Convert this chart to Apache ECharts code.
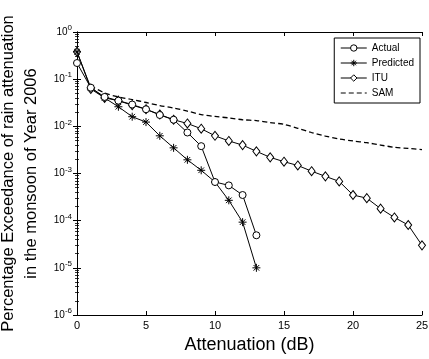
<!DOCTYPE html>
<html>
<head>
<meta charset="utf-8">
<script src="https://cdn.jsdelivr.net/npm/echarts@6/dist/echarts.min.js"></script>
<style>
  html, body { margin: 0; padding: 0; background: #fff; }
  #chart { width: 429px; height: 359px; }
</style>
</head>
<body>
<div id="chart"></div>
<script>
// attenuation (dB) steps
const attenActual = [0, 1, 2, 3, 4, 5, 6, 7, 8, 9, 10, 11, 12, 13];
const attenItu = [0, 1, 2, 3, 4, 5, 6, 7, 8, 9, 10, 11, 12, 13, 14, 15, 16, 17, 18, 19, 20, 21, 22, 23, 24, 25];
const attenSam = [1, 2, 3, 4, 5, 6, 7, 8, 9, 10, 11, 12, 13, 14, 15, 16, 17, 18, 19, 20, 21, 22, 23, 24, 25];

// percentage exceedance
const actual = [0.22, 0.066, 0.042, 0.035, 0.029, 0.023, 0.0174, 0.0138, 0.0074, 0.0038, 0.00066, 0.00056, 0.00035, 0.000049];
const predicted = [0.38, 0.066, 0.04, 0.026, 0.016, 0.0123, 0.0063, 0.0035, 0.00195, 0.00117, 0.00066, 0.00027, 0.000093, 0.00001];
const itu = [0.38, 0.062, 0.04, 0.035, 0.028, 0.023, 0.0178, 0.0138, 0.0115, 0.0089, 0.0063, 0.0049, 0.004, 0.00295,
  0.0022, 0.00178, 0.00148, 0.00112, 0.00087, 0.00068, 0.00035, 0.0003, 0.00018, 0.000117, 0.000081, 0.00003];
const sam = [0.072, 0.051, 0.042, 0.037, 0.032, 0.0275, 0.0245, 0.021, 0.0178, 0.0162, 0.0151, 0.0138, 0.0132,
  0.012, 0.011, 0.0091, 0.0074, 0.0062, 0.0054, 0.0049, 0.0045, 0.004, 0.0036, 0.0034, 0.0032];

const xTicks = [0, 5, 10, 15, 20, 25];

const FONT = '"Liberation Sans", Arial, Helvetica, sans-serif';
const star = 'path://M0,-10 L0,10 M-10,0 L10,0 M-7,-7 L7,7 M-7,7 L7,-7';

const pairs = (xs, ys) => xs.map((x, i) => [x, ys[i]]);

const chart = echarts.init(document.getElementById('chart'), null, { renderer: 'canvas' });

const tickStyle = { show: true, inside: true, length: 4, lineStyle: { color: '#000', width: 1 } };
const minorStyle = { show: true, splitNumber: 9, length: 2, lineStyle: { color: '#000', width: 0.8 } };

const option = {
  animation: false,
  backgroundColor: '#fff',
  textStyle: { fontFamily: FONT },
  grid: { left: 77, right: 7, top: 32, bottom: 44, containLabel: false, outerBoundsMode: 'none' },
  legend: {
    right: 9, top: 38,
    orient: 'vertical',
    backgroundColor: '#fff',
    borderColor: '#000', borderWidth: 1,
    padding: [5, 6, 5, 6],
    itemGap: 5,
    itemWidth: 26, itemHeight: 8,
    lineStyle: { width: 1 },
    itemStyle: { borderWidth: 1 },
    textStyle: { fontFamily: FONT, fontSize: 10, color: '#000' },
    data: [
      'Actual', 'Predicted', 'ITU',
      { name: 'SAM', itemStyle: { color: 'rgba(0,0,0,0)', borderColor: 'rgba(0,0,0,0)', borderWidth: 0 } }
    ]
  },
  xAxis: [
    {
      type: 'value', min: 0, max: 25, interval: 5,
      name: 'Attenuation (dB)', nameLocation: 'middle', nameGap: 21,
      nameTextStyle: { fontFamily: FONT, fontSize: 18, color: '#000' },
      axisLine: { show: true, lineStyle: { color: '#000', width: 1 } },
      axisTick: tickStyle,
      axisLabel: { fontFamily: FONT, fontSize: 11, color: '#000', margin: 5,
        formatter: v => xTicks.includes(v) ? String(v) : '' },
      splitLine: { show: false }
    },
    {
      type: 'value', min: 0, max: 25, interval: 5, position: 'top',
      axisLine: { show: true, lineStyle: { color: '#000', width: 1 } },
      axisTick: tickStyle, axisLabel: { show: false }, splitLine: { show: false }
    }
  ],
  yAxis: [
    {
      type: 'log', logBase: 10, min: 1e-6, max: 1,
      name: 'Percentage Exceedance of rain attenuation\nin the monsoon of Year 2006',
      nameLocation: 'middle', nameGap: 21, nameRotate: 90,
      nameTextStyle: { fontFamily: FONT, fontSize: 16.5, color: '#000', lineHeight: 23 },
      axisLine: { show: true, lineStyle: { color: '#000', width: 1 } },
      axisTick: tickStyle,
      minorTick: minorStyle,
      axisLabel: {
        margin: 5,
        formatter: v => '{b|10}{e|' + Math.round(Math.log10(v)) + '}',
        rich: {
          b: { fontFamily: FONT, fontSize: 10, color: '#000' },
          e: { fontFamily: FONT, fontSize: 8, color: '#000', padding: [0, 0, 8, 0] }
        }
      },
      splitLine: { show: false }
    },
    {
      type: 'log', logBase: 10, min: 1e-6, max: 1, position: 'right',
      axisLine: { show: true, lineStyle: { color: '#000', width: 1 } },
      axisTick: tickStyle, minorTick: minorStyle,
      axisLabel: { show: false }, splitLine: { show: false }
    }
  ],
  series: [
    {
      name: 'Actual', type: 'line', data: pairs(attenActual, actual),
      symbol: 'circle', symbolSize: 7, showAllSymbol: true,
      lineStyle: { color: '#000', width: 1 },
      itemStyle: { color: '#fff', borderColor: '#000', borderWidth: 1 },
      z: 4
    },
    {
      name: 'Predicted', type: 'line', data: pairs(attenActual, predicted),
      symbol: star, symbolSize: 8, showAllSymbol: true,
      lineStyle: { color: '#000', width: 1 },
      itemStyle: { color: '#000', borderColor: '#000', borderWidth: 1 },
      z: 3
    },
    {
      name: 'ITU', type: 'line', data: pairs(attenItu, itu),
      symbol: 'diamond', symbolSize: [7, 9], showAllSymbol: true,
      lineStyle: { color: '#000', width: 1 },
      itemStyle: { color: '#fff', borderColor: '#000', borderWidth: 1 },
      z: 2
    },
    {
      name: 'SAM', type: 'line', data: pairs(attenSam, sam),
      symbol: 'none', smooth: 0.3,
      lineStyle: { color: '#000', width: 1.3, type: [5, 3] },
      itemStyle: { color: '#000' },
      z: 1
    }
  ]
};

chart.setOption(option);
</script>
</body>
</html>
